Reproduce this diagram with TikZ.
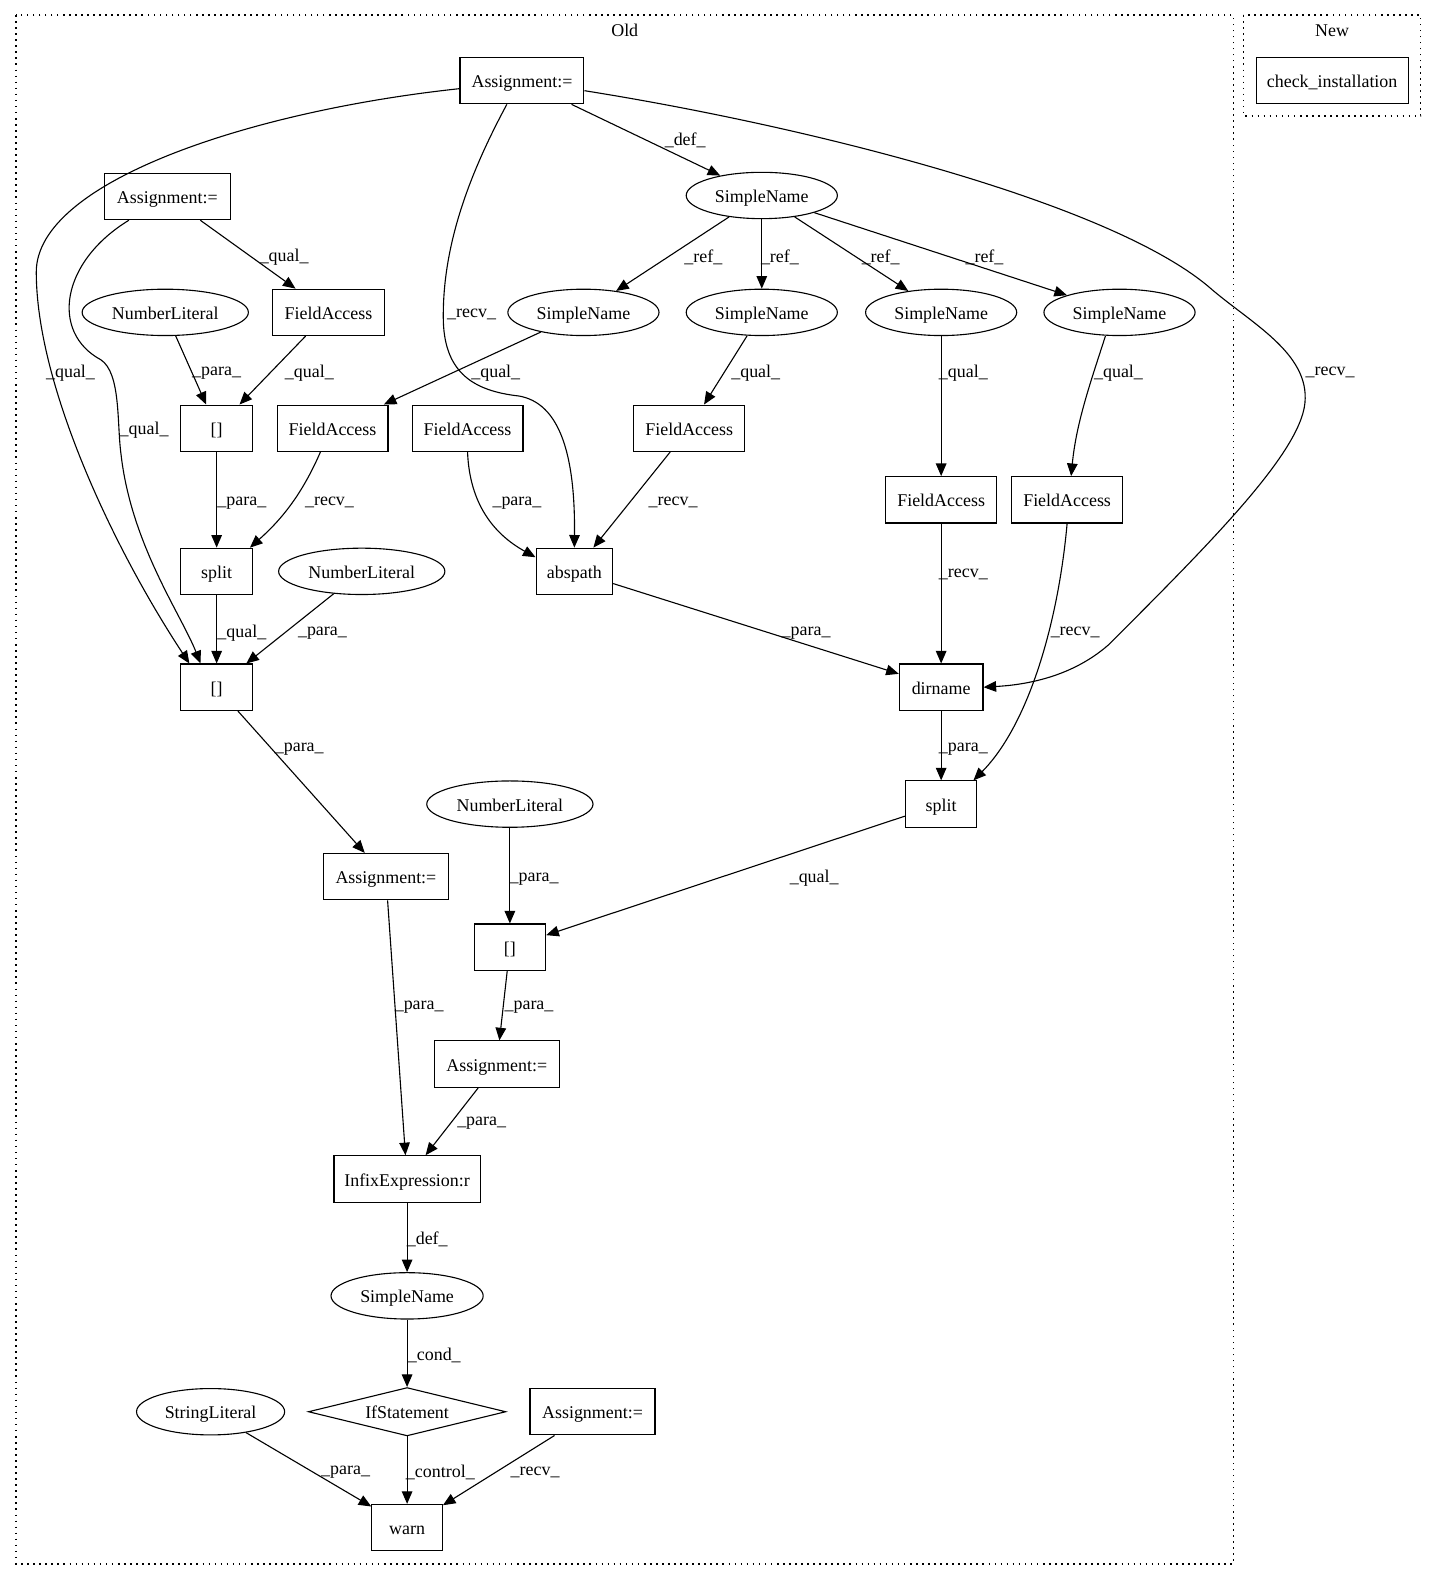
\documentclass[tikz,border=0pt]{standalone}
\usepackage{fontspec}
\setmainfont{Liberation Serif}
\usetikzlibrary{shapes.geometric, arrows.meta, positioning, calc}
\newcommand{\letra}{\fontsize{17.8}{21}\selectfont}
\tikzset{
  caja/.style={rectangle, draw, line width=1.1pt, minimum width=71pt, minimum height=46pt,
               inner sep=0pt, text height=14pt, text depth=0pt, text centered, font=\letra},
  elipse/.style={ellipse, draw, line width=1.1pt, minimum width=150pt, minimum height=46pt,
                 inner sep=0pt, text height=14pt, text depth=0pt, font=\letra},
  rombo/.style={diamond, draw, line width=1.1pt, aspect=4.08, minimum width=196pt, minimum height=48pt,
                inner sep=0pt, text height=14pt, text depth=0pt, font=\letra},
  arrow/.style={line width=1.1pt, -{Triangle[length=12.5pt, width=10.5pt]}},
  etiq/.style={font=\letra, inner sep=0pt, yshift=-2pt},
  grupo/.style={line width=1.3pt, dash pattern=on 1.6pt off 4.4pt},
  titulo/.style={font=\letra, inner sep=0pt}
}

\begin{document}
\begin{tikzpicture}[x=100pt, y=-100pt]
  \useasboundingbox (0,0) rectangle (14.26,15.68);
  % clusters
  \draw [grupo] (0.16,0.15) rectangle (12.24,15.52);
  \draw [grupo] (12.34,0.15) rectangle (14.10,1.15);
  \node (old) [titulo] at (6.20,0.30) {Old};
  \node (new) [titulo] at (13.22,0.30) {New};
  \node (check) [caja, minimum width=151pt] at (13.22,0.80) {check\_installation};

  % nodes
  \node (a1) [caja, minimum width=123pt] at (5.18,0.80) {Assignment:=};
  \node (sn0) [elipse] at (7.56,1.94) {SimpleName};
  \node (a2) [caja, minimum width=125pt] at (1.66,1.95) {Assignment:=};
  \node (nl1) [elipse, minimum width=165pt] at (1.64,3.10) {NumberLiteral};
  \node (fa1) [caja, minimum width=111pt] at (3.26,3.10) {FieldAccess};
  \node (sn1) [elipse] at (5.79,3.10) {SimpleName};
  \node (sn2) [elipse] at (7.56,3.10) {SimpleName};
  \node (sn3) [elipse] at (9.34,3.10) {SimpleName};
  \node (sn4) [elipse] at (11.11,3.10) {SimpleName};
  \node (idx1) [caja] at (2.15,4.25) {[]};
  \node (fa2) [caja, minimum width=110pt] at (3.30,4.25) {FieldAccess};
  \node (fa3) [caja, minimum width=110pt] at (4.64,4.25) {FieldAccess};
  \node (fa4) [caja, minimum width=110pt] at (6.84,4.25) {FieldAccess};
  \node (fa5) [caja, minimum width=110pt] at (9.34,4.96) {FieldAccess};
  \node (fa6) [caja, minimum width=110pt] at (10.59,4.96) {FieldAccess};
  \node (split1) [caja] at (2.15,5.67) {split};
  \node (nl2) [elipse, minimum width=165pt] at (3.59,5.67) {NumberLiteral};
  \node (abspath) [caja, minimum width=76pt] at (5.70,5.67) {abspath};
  \node (idx2) [caja] at (2.15,6.82) {[]};
  \node (dirname) [caja, minimum width=83pt] at (9.34,6.82) {dirname};
  \node (split2) [caja] at (9.34,7.98) {split};
  \node (nl3) [elipse, minimum width=165pt] at (5.06,7.98) {NumberLiteral};
  \node (a3) [caja, minimum width=124pt] at (3.83,8.70) {Assignment:=};
  \node (idx3) [caja] at (5.06,9.40) {[]};
  \node (a4) [caja, minimum width=124pt] at (4.93,10.56) {Assignment:=};
  \node (infix) [caja, minimum width=145pt] at (4.04,11.70) {InfixExpression:r};
  \node (sn5) [elipse, minimum width=151pt] at (4.04,12.86) {SimpleName};
  \node (ifst) [rombo] at (4.04,14.01) {IfStatement};
  \node (strlit) [elipse, minimum width=147pt] at (2.09,14.01) {StringLiteral};
  \node (a5) [caja, minimum width=124pt] at (5.88,14.01) {Assignment:=};
  \node (warn) [caja, minimum width=70pt] at (4.04,15.16) {warn};

  % connectors
  \draw [arrow] (a1) -- (sn0) node[etiq] at (6.80,1.37) {\_def\_};
  \draw [arrow] ([yshift=-8pt]a1.west) .. controls (2.50,1.10) and (0.36,1.80) .. (0.36,2.70)
        .. controls (0.36,3.80) and (1.10,5.40) .. ([xshift=9pt]idx2.north west)
        node[etiq] at (0.70,3.68) {\_qual\_};
  \draw [arrow] ([xshift=25pt]a2.south west) .. controls (0.60,2.60) and (0.50,3.30) .. (1.00,3.57)
        .. controls (1.20,3.70) and (1.16,4.20) .. (1.20,4.50)
        .. controls (1.30,5.40) and (1.80,6.10) .. ([xshift=20pt]idx2.north west)
        node[etiq] at (1.43,4.25) {\_qual\_};
  \draw [arrow] (a2) -- (fa1) node[etiq] at (2.82,2.53) {\_qual\_};
  \draw [arrow] ([xshift=-15pt]a1.south) .. controls (4.70,1.65) and (4.38,2.40) .. (4.40,3.20)
        .. controls (4.42,3.70) and (4.70,3.88) .. (5.15,3.93)
        .. controls (5.55,4.00) and (5.71,4.50) .. (abspath.north)
        node[etiq] at (4.68,3.10) {\_recv\_};
  \draw [arrow] ([yshift=-10pt]a1.east) .. controls (8.00,1.25) and (11.00,2.00) .. (12.00,2.85)
        .. controls (12.40,3.20) and (13.00,3.50) .. (12.95,4.00)
        .. controls (12.90,4.50) and (12.00,5.40) .. (11.00,6.40)
        .. controls (10.60,6.75) and (10.10,6.80) .. (dirname.east)
        node[etiq] at (13.20,3.68) {\_recv\_};
  \draw [arrow] (sn0) -- (sn1) node[etiq] at (6.98,2.53) {\_ref\_};
  \draw [arrow] (sn0) -- (sn2) node[etiq] at (7.74,2.53) {\_ref\_};
  \draw [arrow] (sn0) -- (sn3) node[etiq] at (8.74,2.53) {\_ref\_};
  \draw [arrow] (sn0) -- (sn4) node[etiq] at (9.77,2.53) {\_ref\_};
  \draw [arrow] (nl1) -- (idx1) node[etiq] at (2.15,3.68) {\_para\_};
  \draw [arrow] (fa1) -- (idx1) node[etiq] at (3.07,3.68) {\_qual\_};
  \draw [arrow] (sn1) -- (fa2) node[etiq] at (4.92,3.68) {\_qual\_};
  \draw [arrow] (sn2) -- (fa4) node[etiq] at (7.50,3.68) {\_qual\_};
  \draw [arrow] (sn3) -- (fa5) node[etiq] at (9.56,3.68) {\_qual\_};
  \draw [arrow] ([xshift=-14pt]sn4.south) .. controls (10.82,3.80) and (10.68,4.20) .. ([xshift=4pt]fa6.north)
        node[etiq] at (11.10,3.68) {\_qual\_};
  \draw [arrow] (idx1) -- (split1) node[etiq] at (2.40,4.97) {\_para\_};
  \draw [arrow] ([xshift=-12pt]fa2.south) .. controls (3.00,4.90) and (2.80,5.15) .. ([xshift=-3pt]split1.north east)
        node[etiq] at (3.27,4.97) {\_recv\_};
  \draw [arrow] (fa3.south) .. controls (4.66,5.00) and (4.90,5.30) .. ([yshift=14pt]abspath.west)
        node[etiq] at (5.13,4.97) {\_para\_};
  \draw [arrow] (fa4) -- (abspath) node[etiq] at (6.68,4.97) {\_recv\_};
  \draw [arrow] (fa5) -- (dirname) node[etiq] at (9.56,5.68) {\_recv\_};
  \draw [arrow] (fa6.south) .. controls (10.50,6.20) and (10.20,7.20) .. ([xshift=-4pt]split2.north east)
        node[etiq] at (10.67,6.26) {\_recv\_};
  \draw [arrow] (split1) -- (idx2) node[etiq] at (2.40,6.26) {\_qual\_};
  \draw [arrow] (nl2) -- (idx2) node[etiq] at (3.20,6.26) {\_para\_};
  \draw [arrow] (abspath) -- (dirname) node[etiq] at (8.00,6.26) {\_para\_};
  \draw [arrow] (idx2) -- (a3) node[etiq] at (2.97,7.41) {\_para\_};
  \draw [arrow] (dirname) -- (split2) node[etiq] at (9.56,7.41) {\_para\_};
  \draw [arrow] (split2) -- (idx3) node[etiq] at (8.08,8.70) {\_qual\_};
  \draw [arrow] (nl3) -- (idx3) node[etiq] at (5.30,8.70) {\_para\_};
  \draw [arrow] (a3) -- (infix) node[etiq] at (4.16,9.98) {\_para\_};
  \draw [arrow] (idx3) -- (a4) node[etiq] at (5.25,9.98) {\_para\_};
  \draw [arrow] (a4) -- (infix) node[etiq] at (4.78,11.13) {\_para\_};
  \draw [arrow] (infix) -- (sn5) node[etiq] at (4.24,12.28) {\_def\_};
  \draw [arrow] (sn5) -- (ifst) node[etiq] at (4.31,13.43) {\_cond\_};
  \draw [arrow] (strlit) -- (warn) node[etiq] at (3.43,14.59) {\_para\_};
  \draw [arrow] (ifst) -- (warn) node[etiq] at (4.37,14.59) {\_control\_};
  \draw [arrow] (a5) -- (warn) node[etiq] at (5.31,14.59) {\_recv\_};
\end{tikzpicture}
\end{document}
